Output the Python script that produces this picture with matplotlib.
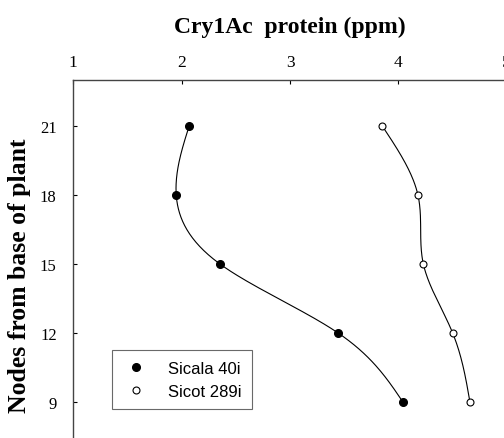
import numpy as np
import matplotlib.pyplot as plt

plt.rcParams['font.family'] = ['Liberation Serif', 'DejaVu Serif']

# data
nodes = [21, 18, 15, 12, 9]
sicala = [2.07, 1.95, 2.35, 3.44, 4.04]
sicot = [3.85, 4.18, 4.23, 4.50, 4.66]


def natural_spline(t, v, tt):
    # natural cubic spline v(t), t increasing
    t = np.asarray(t, float)
    v = np.asarray(v, float)
    n = len(t)
    h = np.diff(t)
    A = np.zeros((n, n))
    b = np.zeros(n)
    A[0, 0] = 1
    A[-1, -1] = 1
    for i in range(1, n - 1):
        A[i, i - 1] = h[i - 1]
        A[i, i] = 2 * (h[i - 1] + h[i])
        A[i, i + 1] = h[i]
        b[i] = 6 * ((v[i + 1] - v[i]) / h[i] - (v[i] - v[i - 1]) / h[i - 1])
    M = np.linalg.solve(A, b)
    out = np.zeros_like(tt)
    for k, x in enumerate(tt):
        i = min(max(np.searchsorted(t, x) - 1, 0), n - 2)
        a = (t[i + 1] - x) / h[i]
        c = (x - t[i]) / h[i]
        out[k] = (a * v[i] + c * v[i + 1]
                  + ((a ** 3 - a) * M[i] + (c ** 3 - c) * M[i + 1]) * h[i] ** 2 / 6)
    return out


fig = plt.figure(figsize=(5.04, 4.39), dpi=100)
ax = fig.add_axes([0.1454, -0.022, 0.860, 0.838])

yy = np.linspace(9, 21, 200)
ys = nodes[::-1]
ax.plot(natural_spline(ys, sicala[::-1], yy), yy, color='black', lw=0.8)
ax.plot(natural_spline(ys, sicot[::-1], yy), yy, color='black', lw=0.8)
ax.plot(sicala, nodes, 'o', color='black', ms=5.5, label='Sicala 40i')
ax.plot(sicot, nodes, 'o', mfc='white', mec='black', mew=0.8, ms=5,
        label='Sicot 289i')

ax.set_xlim(1, 5)
ax.set_ylim(7, 23)
ax.set_xticks([1, 2, 3, 4, 5])
ax.set_yticks([9, 12, 15, 18, 21])
ax.xaxis.tick_top()
ax.xaxis.set_label_position('top')
ax.tick_params(direction='in', length=3, width=0.8, colors='black')
ax.tick_params(axis='x', pad=7, labelsize=12.5)
ax.tick_params(axis='y', pad=12, labelsize=12)
for s in ['right', 'bottom']:
    ax.spines[s].set_visible(False)
for s in ['top', 'left']:
    ax.spines[s].set_color('#444444')
    ax.spines[s].set_linewidth(1.0)

ax.set_xlabel('Cry1Ac  protein (ppm)', fontsize=17, fontweight='bold', labelpad=16)
ax.set_ylabel('Nodes from base of plant', fontsize=18.5, fontweight='bold')
ax.yaxis.set_label_coords(-0.097, 0.47)

leg = ax.legend(loc='upper left', bbox_to_anchor=(0.089, 0.265), frameon=True,
                fancybox=False, prop={'family': 'Liberation Sans', 'size': 12},
                handletextpad=1.1, borderpad=0.65, labelspacing=0.45,
                handlelength=1.6, borderaxespad=0)
leg.get_frame().set_edgecolor('#444444')
leg.get_frame().set_linewidth(0.8)

fig.savefig('out.png', dpi=100)
